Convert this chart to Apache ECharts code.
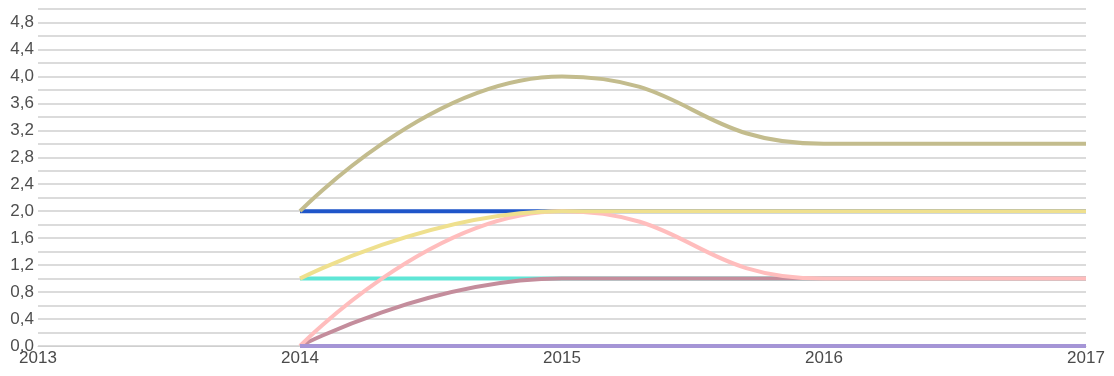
<!DOCTYPE html>
<html>
<head>
<meta charset="utf-8">
<script src="https://cdn.jsdelivr.net/npm/echarts@6/dist/echarts.min.js"></script>
<style>
  html, body { margin: 0; padding: 0; background: #fff; }
  #chart { width: 1114px; height: 376px; }
</style>
</head>
<body>
<div id="chart"></div>
<script>
// Years along the x axis
const years = [2014, 2015, 2016, 2017];

// One value per year for each line
const blueValues   = [2, 2, 2, 2];
const cyanValues   = [1, 1, 1, 1];
const mauveValues  = [0, 1, 1, 1];
const pinkValues   = [0, 2, 1, 1];
const yellowValues = [1, 2, 2, 2];
const khakiValues  = [2, 4, 3, 3];
const purpleValues = [0, 0, 0, 0];

// Line colours, in drawing order (later lines sit on top)
const lines = [
  { name: 'blue',   values: blueValues,   color: '#1f55c9' },
  { name: 'cyan',   values: cyanValues,   color: '#5fe6d6' },
  { name: 'mauve',  values: mauveValues,  color: '#c48d9c' },
  { name: 'pink',   values: pinkValues,   color: '#ffbdbd' },
  { name: 'yellow', values: yellowValues, color: '#efe08e' },
  { name: 'khaki',  values: khakiValues,  color: '#c3bc8d' },
  { name: 'purple', values: purpleValues, color: '#a595d6' }
];

const chart = echarts.init(document.getElementById('chart'));

chart.setOption({
  animation: false,
  backgroundColor: '#fff',
  textStyle: { fontFamily: 'Liberation Sans, Arial, sans-serif' },
  grid: { left: 38, right: 28, top: 9, bottom: 30, containLabel: false },
  xAxis: {
    type: 'value',
    min: 2013,
    max: 2017,
    interval: 1,
    axisLine: { show: true, lineStyle: { color: '#cfcfcf', width: 1 } },
    axisTick: { show: false },
    splitLine: { show: false },
    axisLabel: { color: '#4a4a4a', fontSize: 17, margin: 4, formatter: v => String(v) }
  },
  yAxis: {
    type: 'value',
    min: 0,
    max: 5,
    interval: 0.2,
    axisLine: { show: false },
    axisTick: { show: false },
    splitLine: { show: true, lineStyle: { color: '#cfcfcf', width: 1.5 } },
    axisLabel: {
      color: '#4f4f4f',
      fontSize: 17,
      margin: 4,
      // labels on every other grid line, with a decimal comma
      formatter: v => {
        const step = Math.round(v * 10);
        if (step % 4 !== 0) return '';
        return v.toFixed(1).replace('.', ',');
      }
    }
  },
  series: lines.map(l => ({
    name: l.name,
    type: 'line',
    data: years.map((y, i) => [y, l.values[i]]),
    smooth: 0.5,
    smoothMonotone: 'x',
    showSymbol: false,
    lineStyle: { color: l.color, width: 4 },
    itemStyle: { color: l.color }
  }))
});
</script>
</body>
</html>
